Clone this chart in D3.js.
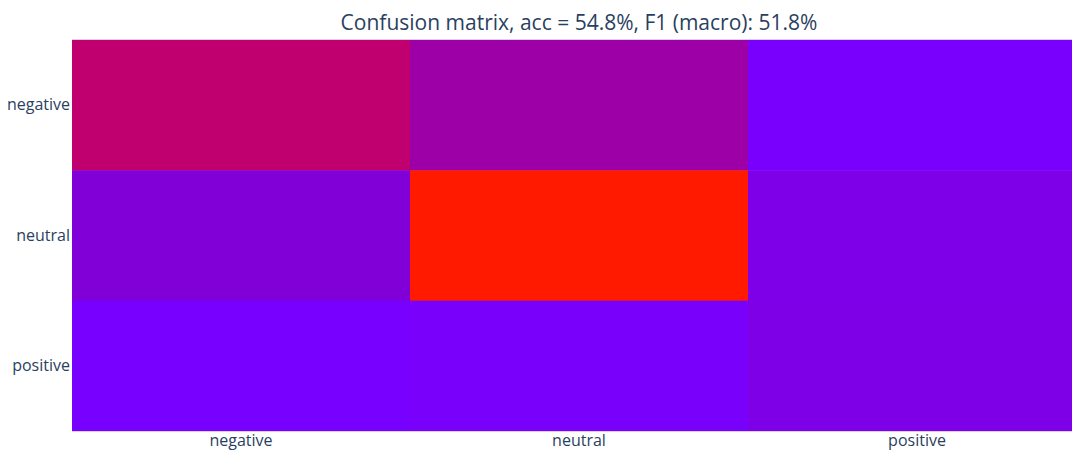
<!DOCTYPE html>
<html>
<head>
<meta charset="utf-8">
<script src="https://cdn.jsdelivr.net/npm/d3@7"></script>
<style>
  html, body { margin: 0; padding: 0; background: #fff; overflow: hidden; }
  svg { display: block; font-family: "Open Sans", "Noto Sans", sans-serif; }
</style>
</head>
<body>
<svg id="chart" width="1072" height="450"></svg>
<script>
// Data
const xCategories = ["negative", "neutral", "positive"];   // predicted
const yCategories = ["negative", "neutral", "positive"];   // actual (top to bottom)
const rowNegative = [0.45, 0.25, 0.005];
const rowNeutral  = [0.10, 1.00, 0.06];
const rowPositive = [0.00, 0.012, 0.064];
const titleText = "Confusion matrix, acc = 54.8%, F1 (macro): 51.8%";
const colorStops = [0, 0.1, 0.25, 0.45, 1];
const colorValues = ["#7800ff", "#8200d8", "#9e00a8", "#c0006e", "#ff1a00"];

const rows = [rowNegative, rowNeutral, rowPositive];
const cells = [];
rows.forEach((r, i) => r.forEach((v, j) => cells.push({ y: yCategories[i], x: xCategories[j], v })));

const W = 1072, H = 450;
const plotLeft = 72, plotRight = 1086, plotTop = 40, plotBottom = 431;
const svg = d3.select("#chart");

const x = d3.scaleBand().domain(xCategories).range([plotLeft, plotRight]).padding(0);
const y = d3.scaleBand().domain(yCategories).range([plotTop, plotBottom]).padding(0);
const color = d3.scaleLinear().domain(colorStops).range(colorValues).interpolate(d3.interpolateRgb);

svg.append("g").selectAll("rect").data(cells).join("rect")
  .attr("x", d => x(d.x))
  .attr("y", d => y(d.y))
  .attr("width", x.bandwidth() + 0.5)
  .attr("height", y.bandwidth() + 0.5)
  .attr("fill", d => color(d.v));

// faint edge lines
svg.append("line").attr("x1", plotLeft).attr("x2", W).attr("y1", plotTop - 0.5).attr("y2", plotTop - 0.5)
  .attr("stroke", "#d8d0ee").attr("stroke-width", 1);
svg.append("line").attr("x1", plotLeft).attr("x2", W).attr("y1", plotBottom + 0.5).attr("y2", plotBottom + 0.5)
  .attr("stroke", "#d8d0ee").attr("stroke-width", 1);

const xAxis = svg.append("g").attr("transform", `translate(0,${plotBottom})`)
  .call(d3.axisBottom(x).tickSize(0).tickPadding(4));
xAxis.select(".domain").remove();
xAxis.selectAll("text").attr("font-size", 16).attr("fill", "#2a3f5f").attr("font-family", "Open Sans, sans-serif");

const yAxis = svg.append("g").attr("transform", `translate(${plotLeft},0)`)
  .call(d3.axisLeft(y).tickSize(0).tickPadding(2));
yAxis.select(".domain").remove();
yAxis.selectAll("text").attr("font-size", 16).attr("fill", "#2a3f5f").attr("font-family", "Open Sans, sans-serif");

svg.append("text")
  .attr("x", (plotLeft + plotRight) / 2).attr("y", 30)
  .attr("text-anchor", "middle")
  .attr("font-size", 21)
  .attr("fill", "#2a3f5f")
  .text(titleText);
</script>
</body>
</html>
